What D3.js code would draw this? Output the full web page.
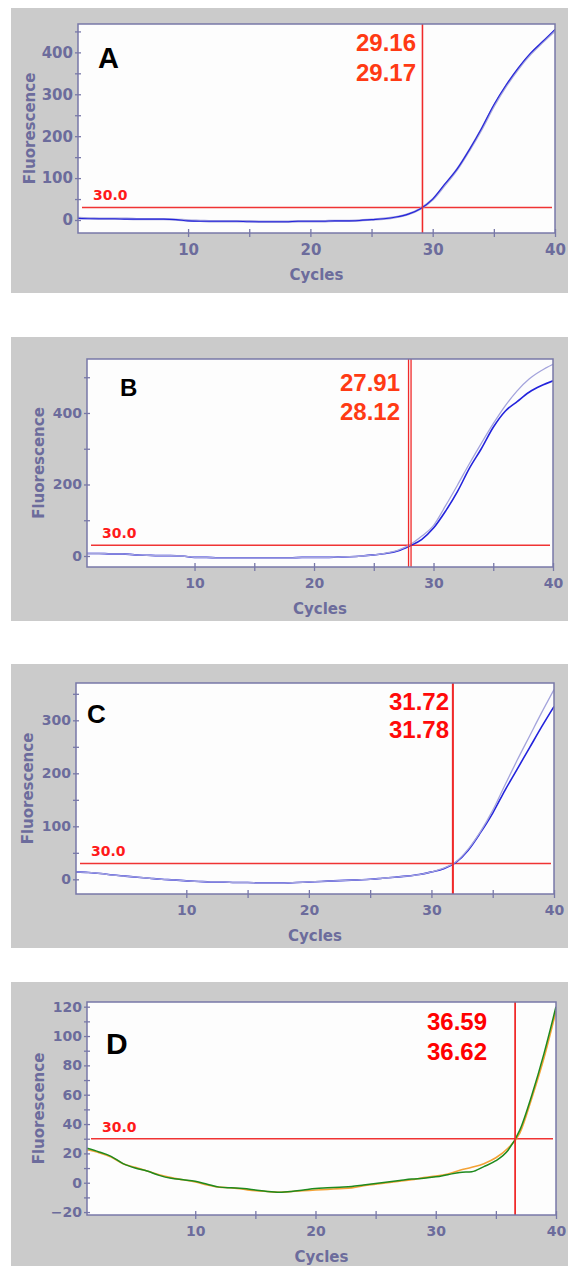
<!DOCTYPE html>
<html>
<head>
<meta charset="utf-8">
<script src="https://cdn.jsdelivr.net/npm/d3@7"></script>
<style>
  html, body { margin: 0; padding: 0; background: #ffffff; }
  svg { display: block; }
</style>
</head>
<body>
<svg id="chart" width="568" height="1266"></svg>
<script>
// ---------------- DATA ----------------
const cycles = d3.range(1, 41);
const threshold = 30.0;
const thresholdLabel = "30.0";
const panelLetters = ["A", "B", "C", "D"];

const aBlue = [4,3,3,3,2,2,2,2,1,-2, -3,-3,-3,-3,-4,-4,-4,-4,-3,-3, -3,-2,-2,-1,1,3,7,14,27,50, 86,122,168,219,275,322,363,398,426,455];
const aLav  = [5,4,3,3,3,2,2,2,1,-1, -2,-3,-3,-3,-3,-4,-4,-4,-3,-3, -3,-2,-2,-1,1,3,7,14,27,49, 84,121,167,217,272,320,361,396,425,452];
const aCt = [29.16, 29.17];

const bLav  = [7,7,6,6,3,2,1,1,0,-4, -4,-5,-5,-5,-5,-5,-5,-5,-4,-4, -4,-3,-2,0,3,8,16,31,55,85, 140,198,258,315,370,420,462,495,518,536];
const bBlue = [7,7,6,6,3,2,1,1,0,-4, -4,-5,-5,-5,-5,-5,-5,-5,-4,-4, -4,-3,-2,0,3,7,14,28,46,78, 125,180,245,300,360,405,432,458,476,490];
const bCt = [27.91, 28.12];

const cLav  = [14,13,11,8,6,4,2,0,-1,-3, -4,-5,-5,-6,-6,-7,-7,-7,-6,-5, -4,-3,-2,-1,0,2,4,6,9,14, 21,33,57,90,130,178,225,270,315,358];
const cBlue = [14,13,11,8,6,4,2,0,-1,-3, -4,-5,-5,-6,-6,-7,-7,-7,-6,-5, -4,-3,-2,-1,0,2,4,6,9,14, 20,32,55,88,125,168,208,248,288,326];
const cCt = [31.72, 31.78];

const dGreen  = [23.5,21,18,13,10,8,5,3,2,1, -1,-3,-3.5,-4,-5,-6,-6.5,-6,-5,-4, -3.5,-3,-2.5,-1.5,-0.5,0.5,1.5,2.5,3,4, 5.5,7,7.5,11,15,22,36,60,88,120];
const dOrange = [22.5,20.5,17.5,13,10.5,8,5.5,3.5,2,0.5, -1.5,-3,-3.5,-4.5,-5.5,-6,-6.5,-6,-5.5,-5, -4.5,-4,-3.5,-2,-1,0,1,2,3.5,4.5, 6,8.5,10.5,13,17,23.5,34,58,85,117];
const dCt = [36.59, 36.62];

const xMajorTicks = [10, 20, 30, 40];
const xMinorTicks = [15, 25, 35];
const aYTicks = [0, 100, 200, 300, 400], aYMinor = [50, 150, 250, 350, 450];
const bYTicks = [0, 200, 400],           bYMinor = [100, 300, 500];
const cYTicks = [0, 100, 200, 300],      cYMinor = [50, 150, 250, 350];
const dYTicks = [-20, 0, 20, 40, 60, 80, 100, 120], dYMinor = [-10, 10, 30, 50, 70, 90, 110];

// ---------------- LAYOUT / STYLE ----------------
const AXIS_COLOR = "#7878a8";
const TEXT_COLOR = "#6c6c9c";
const BLUE = "#2323dc", LAV = "#a4a4dc";

const panels = [
  { letter: panelLetters[0], gray: [11, 8, 568, 293], frame: [78, 24, 555, 233], yDomain: [-31, 467.7],
    yTicks: aYTicks, yMinor: aYMinor, tickFont: 15,
    letterPos: [98, 68], letterSize: 29,
    ct: aCt, ctRight: 416, ctBase: [51, 81], ctColor: "#ff3a14",
    series: [{ v: aLav, c: LAV, w: 2.4 }, { v: aBlue, c: BLUE, w: 1.1 }] },
  { letter: panelLetters[1], gray: [11, 337, 568, 621], frame: [87, 359, 553, 567], yDomain: [-30.8, 551],
    yTicks: bYTicks, yMinor: bYMinor, tickFont: 14,
    letterPos: [120, 396], letterSize: 24,
    ct: bCt, ctRight: 400, ctBase: [391, 420], ctColor: "#ff3a14",
    series: [{ v: bBlue, c: BLUE, w: 1.6 }, { v: bLav, c: LAV, w: 1.3 }] },
  { letter: panelLetters[2], gray: [11, 664, 568, 948], frame: [76, 683, 554, 894], yDomain: [-27.7, 370.4],
    yTicks: cYTicks, yMinor: cYMinor, tickFont: 14,
    letterPos: [87, 723], letterSize: 26,
    ct: cCt, ctRight: 449, ctBase: [710, 738], ctColor: "#ff0a0a",
    series: [{ v: cBlue, c: BLUE, w: 1.6 }, { v: cLav, c: LAV, w: 1.3 }] },
  { letter: panelLetters[3], gray: [11, 982, 568, 1266], frame: [87, 1002, 556, 1215], yDomain: [-22, 123.2],
    yTicks: dYTicks, yMinor: dYMinor, tickFont: 14,
    letterPos: [106, 1054], letterSize: 30,
    ct: dCt, ctRight: 487, ctBase: [1030, 1060], ctColor: "#ff0000",
    series: [{ v: dOrange, c: "#f4a236", w: 1.6 }, { v: dGreen, c: "#1e8a1e", w: 1.5 }] }
];

const svg = d3.select("#chart");

panels.forEach(p => {
  const [gx0, gy0, gx1, gy1] = p.gray;
  const [L, T, R, B] = p.frame;
  const g = svg.append("g");

  g.append("rect").attr("x", gx0).attr("y", gy0).attr("width", gx1 - gx0).attr("height", gy1 - gy0)
    .attr("fill", "#cbcbcb");
  g.append("rect").attr("x", L).attr("y", T).attr("width", R - L).attr("height", B - T)
    .attr("fill", "#fdfdfd");

  const x = d3.scaleLinear().domain([1, 40]).range([L, R]);
  const y = d3.scaleLinear().domain(p.yDomain).range([B, T]);

  // clip for curves
  const clipId = "clip" + p.letter;
  g.append("clipPath").attr("id", clipId).append("rect")
    .attr("x", L).attr("y", T).attr("width", R - L).attr("height", B - T);

  // threshold line
  g.append("line").attr("x1", L + 4).attr("x2", R - 3)
    .attr("y1", y(threshold)).attr("y2", y(threshold))
    .attr("stroke", "#f03434").attr("stroke-width", 1.5);
  g.append("text").attr("x", L + 15).attr("y", y(threshold) - 7)
    .attr("fill", "#ff1a1a").attr("font-family", "'DejaVu Sans', sans-serif")
    .attr("font-weight", "bold").attr("font-size", 14).text(thresholdLabel);

  // curves
  const line = d3.line().x((d, i) => x(cycles[i])).y(d => y(d)).curve(d3.curveMonotoneX);
  const cg = g.append("g").attr("clip-path", `url(#${clipId})`);
  p.series.forEach(s => {
    cg.append("path").attr("d", line(s.v)).attr("fill", "none")
      .attr("stroke", s.c).attr("stroke-width", s.w).attr("stroke-linejoin", "round");
  });

  // Ct vertical lines
  p.ct.forEach(c => {
    g.append("line").attr("x1", x(c)).attr("x2", x(c)).attr("y1", T).attr("y2", B)
      .attr("stroke", "#f02a2a").attr("stroke-width", 1.3);
  });

  // Ct labels
  p.ct.forEach((c, i) => {
    g.append("text").attr("x", p.ctRight).attr("y", p.ctBase[i]).attr("text-anchor", "end")
      .attr("fill", p.ctColor).attr("font-family", "'Liberation Sans', Arial, sans-serif")
      .attr("font-weight", "bold").attr("font-size", 24).text(c.toFixed(2));
  });

  // panel letter
  g.append("text").attr("x", p.letterPos[0]).attr("y", p.letterPos[1])
    .attr("fill", "#000").attr("font-family", "'Liberation Sans', Arial, sans-serif")
    .attr("font-weight", "bold").attr("font-size", p.letterSize).text(p.letter);

  // frame
  g.append("rect").attr("x", L).attr("y", T).attr("width", R - L).attr("height", B - T)
    .attr("fill", "none").attr("stroke", AXIS_COLOR).attr("stroke-width", 1.5);

  // Y tick marks (crossing axis)
  const yTickG = g.append("g").attr("transform", `translate(${L + 3},0)`)
    .call(d3.axisLeft(y).tickValues(p.yTicks.concat(p.yMinor)).tickSize(6).tickFormat(""));
  yTickG.select(".domain").remove();
  yTickG.selectAll("line").attr("stroke", AXIS_COLOR).attr("stroke-width", 1.3);

  // Y tick labels
  const yLab = g.append("g").attr("transform", `translate(${L},0)`)
    .call(d3.axisLeft(y).tickValues(p.yTicks).tickSize(0).tickPadding(5).tickFormat(d3.format("d")));
  yLab.select(".domain").remove();
  yLab.selectAll("text").attr("fill", TEXT_COLOR).attr("font-family", "'DejaVu Sans', sans-serif")
    .attr("font-weight", "bold").attr("font-size", p.tickFont);

  // X tick marks (crossing axis)
  const xTickG = g.append("g").attr("transform", `translate(0,${B - 4})`)
    .call(d3.axisBottom(x).tickValues(xMajorTicks.concat(xMinorTicks)).tickSize(8).tickFormat(""));
  xTickG.select(".domain").remove();
  xTickG.selectAll("line").attr("stroke", AXIS_COLOR).attr("stroke-width", 1.3);

  // X tick labels
  const xLab = g.append("g").attr("transform", `translate(0,${B})`)
    .call(d3.axisBottom(x).tickValues(xMajorTicks).tickSize(0).tickPadding(11).tickFormat(d3.format("d")));
  xLab.select(".domain").remove();
  xLab.selectAll("text").attr("fill", TEXT_COLOR).attr("font-family", "'DejaVu Sans', sans-serif")
    .attr("font-weight", "bold").attr("font-size", p.tickFont);

  // axis titles
  g.append("text").attr("x", (L + R) / 2).attr("y", B + 47).attr("text-anchor", "middle")
    .attr("fill", TEXT_COLOR).attr("font-family", "'DejaVu Sans', sans-serif")
    .attr("font-weight", "bold").attr("font-size", 15).text("Cycles");
  g.append("text")
    .attr("transform", `translate(${L - 43},${(T + B) / 2}) rotate(-90)`)
    .attr("text-anchor", "middle")
    .attr("fill", TEXT_COLOR).attr("font-family", "'DejaVu Sans', sans-serif")
    .attr("font-weight", "bold").attr("font-size", 15).text("Fluorescence");
});
</script>
</body>
</html>
